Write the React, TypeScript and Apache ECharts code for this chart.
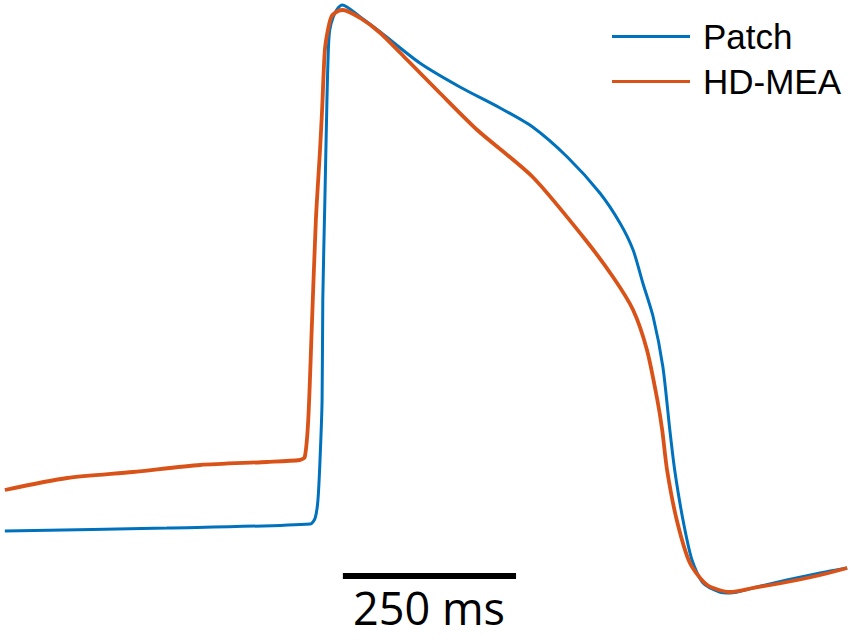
import React, { useEffect, useRef } from "react";
import * as echarts from "echarts";

// Time (ms) and membrane potential (mV) samples
const patchTime = [7, 241, 448, 455, 459, 462, 465, 466, 469, 472, 474, 476, 481, 487, 494, 520, 549, 606, 664, 722, 769, 819, 866, 895, 914, 928, 943, 957, 967, 974, 986, 999, 1015, 1039, 1054, 1087, 1136, 1184, 1223];
const patchVm = [-64.2, -63.6, -62.8, -61.6, -58, -50, -38, -18, 2, 22, 32, 36, 38.6, 40.2, 41, 38.6, 35.6, 29.4, 24.6, 20.4, 16.6, 10.6, 3.4, -2.6, -8, -14.6, -21.4, -31.4, -44, -52, -62, -70, -74.6, -76.4, -76.6, -75.6, -74, -72.6, -71.6];

const meaTime = [7, 97, 192, 289, 385, 433, 440, 445, 450, 456, 462, 465, 469, 474, 479, 488, 495, 520, 549, 588, 635, 689, 769, 842, 885, 914, 934, 949, 956, 963, 977, 996, 1021, 1054, 1087, 1136, 1184, 1223];
const meaVm = [-56, -53.6, -52.4, -51, -50.4, -50, -49.4, -42, -24, -2, 12, 20, 32, 36.4, 38.8, 39.8, 40, 38.4, 35.4, 30, 23.4, 16, 6.6, -5.4, -13.4, -20, -28, -38, -44, -52, -62, -70.6, -75, -76.4, -75.6, -74.4, -73, -71.6];

const seriesNames = ["Patch", "HD-MEA"];
const seriesColors = ["#0072BD", "#D95319"];
const scaleBarTime = [495, 745];
const scaleBarLevel = -73.2;
const scaleBarLabel = "250 ms";

const xRange = [0, 1230];
const yRange = [-86, 42];

function zip(xs: number[], ys: number[]) {
  return xs.map((x, i) => [x, ys[i]]);
}

export default function App() {
  const ref = useRef<HTMLDivElement>(null);
  useEffect(() => {
    document.body.style.margin = "0";
    if (!ref.current) return;
    const chart = echarts.init(ref.current, null, { renderer: "svg" });
    chart.setOption({
      animation: false,
      backgroundColor: "#ffffff",
      grid: { left: 0, right: 0, top: 0, bottom: 0 },
      xAxis: { type: "value", min: xRange[0], max: xRange[1], show: false },
      yAxis: { type: "value", min: yRange[0], max: yRange[1], show: false },
      legend: {
        data: seriesNames.map((n) => ({ name: n, icon: "rect" })),
        orient: "vertical",
        left: 612,
        top: 19,
        padding: 0,
        itemWidth: 78,
        itemHeight: 3,
        itemGap: 10,
        textStyle: {
          fontFamily: "Liberation Sans, Arial, sans-serif",
          fontSize: 35,
          color: "#000",
          lineHeight: 35,
          padding: [0, 0, 0, 8],
        },
      },
      series: [
        {
          name: seriesNames[0],
          type: "line",
          data: zip(patchTime, patchVm),
          symbol: "none",
          smooth: 0.25,
          lineStyle: { color: seriesColors[0], width: 3 },
          itemStyle: { color: seriesColors[0] },
        },
        {
          name: seriesNames[1],
          type: "line",
          data: zip(meaTime, meaVm),
          symbol: "none",
          smooth: 0.25,
          lineStyle: { color: seriesColors[1], width: 3.8 },
          itemStyle: { color: seriesColors[1] },
        },
        {
          name: "scale",
          type: "line",
          data: scaleBarTime.map((t) => [t, scaleBarLevel]),
          symbol: "none",
          silent: true,
          lineStyle: { color: "#000", width: 6, cap: "butt" },
        },
      ],
      graphic: [
        {
          type: "text",
          x: 429,
          y: 607,
          style: {
            text: scaleBarLabel,
            fontFamily: "Open Sans, sans-serif",
            fontSize: 45,
            lineHeight: 45,
            fill: "#000",
            align: "center",
            verticalAlign: "middle",
          },
        },
      ],
    });
    return () => chart.dispose();
  }, []);
  return <div ref={ref} style={{ width: 852, height: 640 }} />;
}
